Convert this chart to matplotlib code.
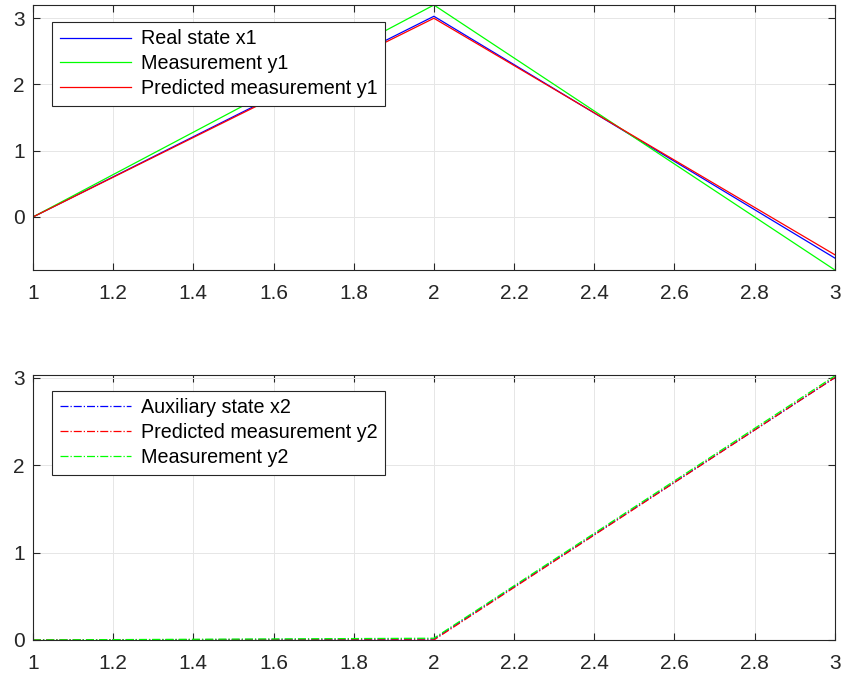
import matplotlib.pyplot as plt

plt.rcParams['font.family'] = ['Liberation Sans', 'DejaVu Sans']

# time points
t = [1, 2, 3]

# top panel: state x1 and its measurements
x1 = [0.0, 3.03, -0.62]
y1_meas = [0.0, 3.2, -0.8]
y1_pred = [0.0, 3.0, -0.57]

# bottom panel: auxiliary state x2
x2 = [0.0, 0.01, 3.0]
y2_pred = [0.0, 0.0, 3.0]
y2_meas = [0.0, 0.02, 3.02]

xticks = [1, 1.2, 1.4, 1.6, 1.8, 2, 2.2, 2.4, 2.6, 2.8, 3]
xticklabels = ['1', '1.2', '1.4', '1.6', '1.8', '2', '2.2', '2.4', '2.6', '2.8', '3']

fig = plt.figure(figsize=(8.45, 6.76), dpi=100)
ax1 = fig.add_axes([0.039, 0.6006, 0.949, 0.392])
ax2 = fig.add_axes([0.039, 0.0533, 0.949, 0.392])

ax1.plot(t, x1, color='#0000ff', lw=0.9, label='Real state x1')
ax1.plot(t, y1_meas, color='#00ff00', lw=0.9, label='Measurement y1')
ax1.plot(t, y1_pred, color='#ff0000', lw=0.9, label='Predicted measurement y1')
ax1.set_ylim(-0.8, 3.2)
ax1.set_yticks([0, 1, 2, 3])

ax2.plot(t, x2, color='#0000ff', lw=0.9, ls='-.', label='Auxiliary state x2')
ax2.plot(t, y2_pred, color='#ff0000', lw=0.9, ls='-.', label='Predicted measurement y2')
ax2.plot(t, y2_meas, color='#00ff00', lw=0.9, ls='-.', label='Measurement y2')
ax2.set_ylim(0, 3.03)
ax2.set_yticks([0, 1, 2, 3])

for ax, top in ((ax1, 0.936), (ax2, 0.94)):
    ax.set_xlim(1, 3)
    ax.set_xticks(xticks)
    ax.set_xticklabels(xticklabels)
    ax.grid(True, color='#e6e6e6', lw=0.7)
    ax.set_axisbelow(True)
    ax.tick_params(direction='in', top=True, right=True, length=5, width=0.8,
                   colors='#262626', labelsize=15)
    ax.tick_params(axis='x', pad=10)
    ax.tick_params(axis='y', pad=6)
    for s in ax.spines.values():
        s.set_color('#262626')
        s.set_linewidth(0.8)
    leg = ax.legend(loc='upper left', bbox_to_anchor=(0.024, top), fontsize=14.2,
                    handlelength=3.6, handletextpad=0.5, labelspacing=0.3,
                    borderpad=0.38, borderaxespad=0, fancybox=False, framealpha=1,
                    edgecolor='#262626')
    leg.get_frame().set_linewidth(0.8)

fig.savefig('out.png', dpi=100)
